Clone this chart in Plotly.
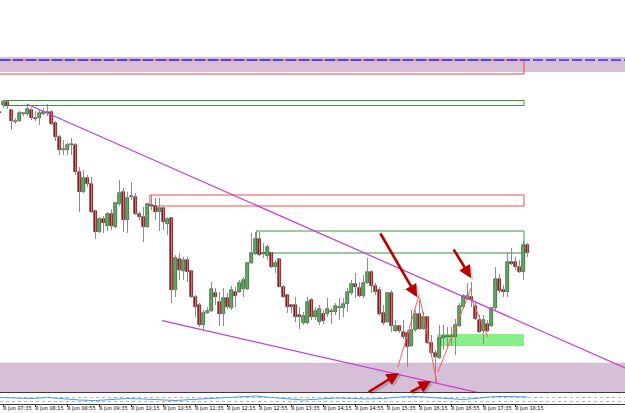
import plotly.graph_objects as go
import pandas as pd

# ---------------- data ----------------
times = pd.date_range("2016-06-08 07:30", periods=133, freq="5min")

open_ = [1.14488,1.14495,1.14498,1.14490,1.14478,1.14479,1.14486,1.14486,1.14490,1.14482,
         1.14482,1.14486,1.14487,1.14488,1.14477,1.14463,1.14450,1.14450,1.14455,1.14455,
         1.14428,1.14408,1.14422,1.14416,1.14389,1.14368,1.14381,1.14374,1.14386,1.14373,
         1.14396,1.14408,1.14380,1.14403,1.14403,1.14386,1.14383,1.14373,1.14395,1.14394,
         1.14388,1.14392,1.14376,1.14382,1.14310,1.14341,1.14329,1.14340,1.14329,1.14303,
         1.14295,1.14275,1.14287,1.14289,1.14307,1.14298,1.14286,1.14302,1.14292,1.14308,
         1.14308,1.14311,1.14311,1.14337,1.14346,1.14361,1.14346,1.14344,1.14347,1.14333,
         1.14341,1.14313,1.14305,1.14295,1.14295,1.14285,1.14277,1.14277,1.14300,1.14283,
         1.14278,1.14286,1.14286,1.14289,1.14288,1.14292,1.14292,1.14296,1.14307,1.14316,
         1.14312,1.14304,1.14317,1.14328,1.14314,1.14310,1.14287,1.14278,1.14307,1.14269,
         1.14274,1.14268,1.14267,1.14254,1.14270,1.14286,1.14271,1.14283,1.14257,1.14247,
         1.14242,1.14262,1.14263,1.14263,1.14263,1.14274,1.14293,1.14301,1.14303,1.14294,
         1.14280,1.14269,1.14276,1.14274,1.14292,1.14321,1.14310,1.14308,1.14338,1.14338,
         1.14333,1.14328,1.14355]
high = [1.14494,1.14499,1.14499,1.14491,1.14482,1.14489,1.14488,1.14495,1.14492,1.14489,
        1.14490,1.14492,1.14496,1.14490,1.14479,1.14465,1.14460,1.14457,1.14462,1.14457,
        1.14433,1.14430,1.14425,1.14423,1.14390,1.14383,1.14384,1.14388,1.14391,1.14398,
        1.14420,1.14412,1.14408,1.14418,1.14407,1.14389,1.14393,1.14397,1.14405,1.14402,
        1.14402,1.14393,1.14383,1.14383,1.14345,1.14347,1.14343,1.14343,1.14330,1.14305,
        1.14297,1.14290,1.14293,1.14318,1.14312,1.14308,1.14312,1.14307,1.14314,1.14313,
        1.14320,1.14323,1.14338,1.14367,1.14368,1.14368,1.14357,1.14355,1.14348,1.14340,
        1.14342,1.14315,1.14305,1.14296,1.14303,1.14293,1.14288,1.14303,1.14302,1.14293,
        1.14295,1.14290,1.14302,1.14292,1.14297,1.14302,1.14302,1.14312,1.14320,1.14327,
        1.14318,1.14325,1.14342,1.14330,1.14317,1.14313,1.14295,1.14308,1.14310,1.14280,
        1.14274,1.14280,1.14270,1.14290,1.14290,1.14300,1.14288,1.14283,1.14265,1.14250,
        1.14275,1.14275,1.14273,1.14273,1.14281,1.14297,1.14306,1.14317,1.14318,1.14297,
        1.14285,1.14285,1.14280,1.14293,1.14333,1.14326,1.14315,1.14348,1.14352,1.14343,
        1.14340,1.14359,1.14357]
low = [1.14478,1.14492,1.14491,1.14470,1.14476,1.14478,1.14484,1.14484,1.14480,1.14479,
       1.14475,1.14485,1.14484,1.14475,1.14459,1.14445,1.14445,1.14445,1.14445,1.14425,
       1.14388,1.14407,1.14413,1.14387,1.14361,1.14367,1.14367,1.14369,1.14370,1.14372,
       1.14394,1.14368,1.14367,1.14400,1.14385,1.14380,1.14358,1.14372,1.14390,1.14380,
       1.14369,1.14370,1.14365,1.14297,1.14303,1.14320,1.14320,1.14318,1.14302,1.14283,
       1.14273,1.14270,1.14286,1.14288,1.14295,1.14274,1.14274,1.14291,1.14290,1.14293,
       1.14307,1.14303,1.14310,1.14336,1.14345,1.14344,1.14342,1.14340,1.14332,1.14327,
       1.14313,1.14302,1.14287,1.14287,1.14278,1.14271,1.14275,1.14276,1.14280,1.14280,
       1.14275,1.14276,1.14283,1.14276,1.14285,1.14280,1.14283,1.14288,1.14305,1.14302,
       1.14303,1.14302,1.14316,1.14307,1.14305,1.14284,1.14275,1.14277,1.14268,1.14268,
       1.14267,1.14261,1.14233,1.14253,1.14268,1.14270,1.14270,1.14256,1.14245,1.14217,
       1.14241,1.14250,1.14252,1.14254,1.14245,1.14273,1.14291,1.14300,1.14293,1.14280,
       1.14267,1.14256,1.14268,1.14273,1.14290,1.14307,1.14303,1.14303,1.14335,1.14330,
       1.14327,1.14320,1.14343]
close = [1.14487,1.14498,1.14494,1.14479,1.14479,1.14487,1.14487,1.14491,1.14482,1.14481,
         1.14487,1.14488,1.14488,1.14476,1.14463,1.14450,1.14451,1.14455,1.14456,1.14428,
         1.14408,1.14422,1.14416,1.14388,1.14368,1.14381,1.14377,1.14386,1.14374,1.14397,
         1.14407,1.14380,1.14402,1.14404,1.14386,1.14383,1.14373,1.14396,1.14394,1.14388,
         1.14392,1.14378,1.14381,1.14310,1.14342,1.14330,1.14340,1.14328,1.14303,1.14293,
         1.14275,1.14287,1.14289,1.14311,1.14303,1.14286,1.14302,1.14293,1.14310,1.14304,
         1.14317,1.14320,1.14337,1.14347,1.14361,1.14345,1.14347,1.14353,1.14333,1.14337,
         1.14313,1.14303,1.14293,1.14293,1.14283,1.14283,1.14284,1.14298,1.14283,1.14289,
         1.14291,1.14279,1.14291,1.14288,1.14294,1.14293,1.14296,1.14308,1.14316,1.14313,
         1.14304,1.14317,1.14328,1.14314,1.14308,1.14286,1.14277,1.14307,1.14274,1.14274,
         1.14269,1.14263,1.14253,1.14270,1.14286,1.14271,1.14283,1.14257,1.14247,1.14243,
         1.14262,1.14264,1.14264,1.14264,1.14275,1.14294,1.14304,1.14304,1.14300,1.14281,
         1.14268,1.14280,1.14269,1.14292,1.14321,1.14309,1.14308,1.14338,1.14336,1.14333,
         1.14328,1.14355,1.14347]

# indicator sub-window (one reading every 4 bars)
ind_times = times[::4]
ind_values = [6, 5.5, 5, 6, 4.5, 3.5, 3, 4, 5, 4.5, 3.5, 3, 4, 5, 5.5, 7, 7.5,
              6, 4.5, 3.5, 4.5, 5.5, 5, 4.5, 5, 6.5, 7, 6, 5, 4, 5.5, 7, 7, 6.5]

tick_times = ["2016-06-08 07:35", "2016-06-08 08:15", "2016-06-08 08:55", "2016-06-08 09:35",
              "2016-06-08 10:15", "2016-06-08 10:55", "2016-06-08 11:35", "2016-06-08 12:15",
              "2016-06-08 12:55", "2016-06-08 13:35", "2016-06-08 14:15", "2016-06-08 14:55",
              "2016-06-08 15:35", "2016-06-08 16:15", "2016-06-08 16:55", "2016-06-08 17:35",
              "2016-06-08 18:15"]
tick_labels = ["8 Jun 07:35", "8 Jun 08:15", "8 Jun 08:55", "8 Jun 09:35", "8 Jun 10:15",
               "8 Jun 10:55", "8 Jun 11:35", "8 Jun 12:15", "8 Jun 12:55", "8 Jun 13:35",
               "8 Jun 14:15", "8 Jun 14:55", "8 Jun 15:35", "8 Jun 16:15", "8 Jun 16:55",
               "8 Jun 17:35", "8 Jun 18:15"]

# drawn objects (time, price)
zone_top = (1.14528, 1.14543)
zone_bottom = (1.14200, 1.142373)
dashed_level = 1.14540
box_end = "2016-06-08 18:25:40"
red_box_top = ("2016-06-08 07:00", 1.14526, 1.14540)
green_box_top = ("2016-06-08 07:34:30", 1.144945, 1.144995)
red_box_mid = ("2016-06-08 10:38", 1.14394, 1.14405)
green_box_low = ("2016-06-08 12:51", 1.14347, 1.14369)
green_zone = ("2016-06-08 16:37", 1.14254, 1.14266)
trend_upper = [("2016-06-08 08:04", 1.14496), ("2016-06-08 20:32", 1.14232)]
trend_lower = [("2016-06-08 10:53:30", 1.142793), ("2016-06-08 17:43", 1.142047)]
thin_lines = [
    [("2016-06-08 15:48", 1.14233), ("2016-06-08 16:14:30", 1.14305)],
    [("2016-06-08 16:15:30", 1.14302), ("2016-06-08 16:37", 1.14217)],
    [("2016-06-08 16:38", 1.14228), ("2016-06-08 17:19:30", 1.14312)],
    [("2016-06-08 17:20:30", 1.14300), ("2016-06-08 17:40:30", 1.14263)],
]
arrows = [  # (tail, head)
    [("2016-06-08 15:25", 1.14368), ("2016-06-08 16:12", 1.14303)],
    [("2016-06-08 16:56:30", 1.14352), ("2016-06-08 17:19:30", 1.14322)],
    [("2016-06-08 15:09:30", 1.14207), ("2016-06-08 15:49:30", 1.14227)],
    [("2016-06-08 16:02", 1.14207), ("2016-06-08 16:29:30", 1.14219)],
]

# ---------------- figure ----------------
fig = go.Figure()

wx, wy = [], []
for t, h, l in zip(times, high, low):
    wx += [t, t, None]
    wy += [h, l, None]
fig.add_trace(go.Scatter(x=wx, y=wy, mode="lines", line=dict(color="#8c8c8c", width=1),
                         hoverinfo="skip", showlegend=False))

base = [min(o, c) for o, c in zip(open_, close)]
height = [max(abs(c - o), 0.000006) for o, c in zip(open_, close)]
colors = ["#2ed12e" if c >= o else "#e00000" for o, c in zip(open_, close)]
fig.add_trace(go.Bar(x=times, y=height, base=base, width=3 * 60 * 1000,
                     marker=dict(color=colors, line=dict(color="#2a2a2a", width=0.6)),
                     showlegend=False, hoverinfo="skip"))

fig.add_trace(go.Scatter(x=ind_times, y=ind_values, xaxis="x2", yaxis="y2", mode="lines",
                         line=dict(color="#3d9cf0", width=1), showlegend=False, hoverinfo="skip"))

shapes = []
shapes.append(dict(type="rect", xref="paper", x0=0, x1=1, yref="y", y0=zone_top[0], y1=zone_top[1],
                   fillcolor="#d8bfd8", line=dict(width=0), layer="below"))
shapes.append(dict(type="rect", xref="paper", x0=0, x1=1, yref="y", y0=zone_bottom[0], y1=zone_bottom[1],
                   fillcolor="#d8bfd8", line=dict(width=0), layer="below"))
shapes.append(dict(type="rect", xref="x", yref="y", x0=green_zone[0], x1=box_end,
                   y0=green_zone[1], y1=green_zone[2], fillcolor="#88f088", line=dict(width=0), layer="below"))
for (x0, y0, y1), col in [(red_box_top, "#ff3c3c"), (green_box_top, "#3a933a"),
                          (red_box_mid, "#ff4a4a"), (green_box_low, "#3a933a")]:
    shapes.append(dict(type="rect", xref="x", yref="y", x0=x0, x1=box_end, y0=y0, y1=y1,
                       line=dict(color=col, width=1), fillcolor="rgba(0,0,0,0)", layer="below"))
shapes.append(dict(type="line", xref="paper", x0=0, x1=1, yref="y", y0=dashed_level, y1=dashed_level,
                   line=dict(color="#2b2bff", width=1.5, dash="10px,3px")))
for seg in [trend_upper, trend_lower]:
    shapes.append(dict(type="line", xref="x", yref="y", x0=seg[0][0], y0=seg[0][1],
                       x1=seg[1][0], y1=seg[1][1], line=dict(color="#c23fd0", width=1.2)))
for seg in thin_lines:
    shapes.append(dict(type="line", xref="x", yref="y", x0=seg[0][0], y0=seg[0][1],
                       x1=seg[1][0], y1=seg[1][1], line=dict(color="#ff5a5a", width=1)))

annotations = []
for (tail, head) in arrows:
    # soft shadow
    sh = pd.Timedelta(minutes=2.5)
    annotations.append(dict(x=pd.Timestamp(head[0]) + sh, y=head[1] - 0.00002, xref="x", yref="y",
                            ax=pd.Timestamp(tail[0]) + sh, ay=tail[1] - 0.00002, axref="x", ayref="y",
                            text="", showarrow=True, arrowhead=2, arrowsize=1, arrowwidth=2.5,
                            arrowcolor="rgba(0,0,0,0.18)"))
    annotations.append(dict(x=head[0], y=head[1], xref="x", yref="y",
                            ax=tail[0], ay=tail[1], axref="x", ayref="y",
                            text="", showarrow=True, arrowhead=2, arrowsize=1, arrowwidth=2.5,
                            arrowcolor="#b80000"))

H = 413.0
x_range = ["2016-06-08 07:30:37.5", "2016-06-08 20:31:52.5"]
fig.update_layout(
    width=625, height=413, margin=dict(l=0, r=0, t=0, b=0, autoexpand=False),
    paper_bgcolor="white", plot_bgcolor="white", showlegend=False,
    shapes=shapes, annotations=annotations, bargap=0,
    xaxis=dict(domain=[0, 1], range=x_range, anchor="y", type="date", showticklabels=False,
               showgrid=False, zeroline=False, showline=True, linecolor="#3c3c3c", linewidth=1,
               ticks="", automargin=False),
    yaxis=dict(domain=[1 - 392 / H, 1], range=[1.14208, 1.14600], showticklabels=False,
               showgrid=False, zeroline=False, ticks="", automargin=False),
    xaxis2=dict(domain=[0, 1], range=x_range, anchor="y2", matches="x", type="date",
                showgrid=False, zeroline=False, showline=True, mirror=True, linecolor="#3c3c3c",
                linewidth=1, ticks="outside", ticklen=2, tickcolor="#3c3c3c", tickangle=0,
                automargin=False,
                tickvals=tick_times, ticktext=tick_labels, ticklabelshift=14, ticklabelstandoff=-3,
                tickfont=dict(family="Liberation Sans Narrow, DejaVu Sans Condensed, Arial Narrow, sans-serif",
                              size=5.5, color="#000000")),
    yaxis2=dict(domain=[1 - 403.5 / H, 1 - 393 / H], range=[0, 10.5], showticklabels=False,
                showgrid=True, gridcolor="#b4b4b4", griddash="dot", tickvals=[2.5, 6.5],
                zeroline=False, ticks="", automargin=False),
)

fig.write_html("out.html")
